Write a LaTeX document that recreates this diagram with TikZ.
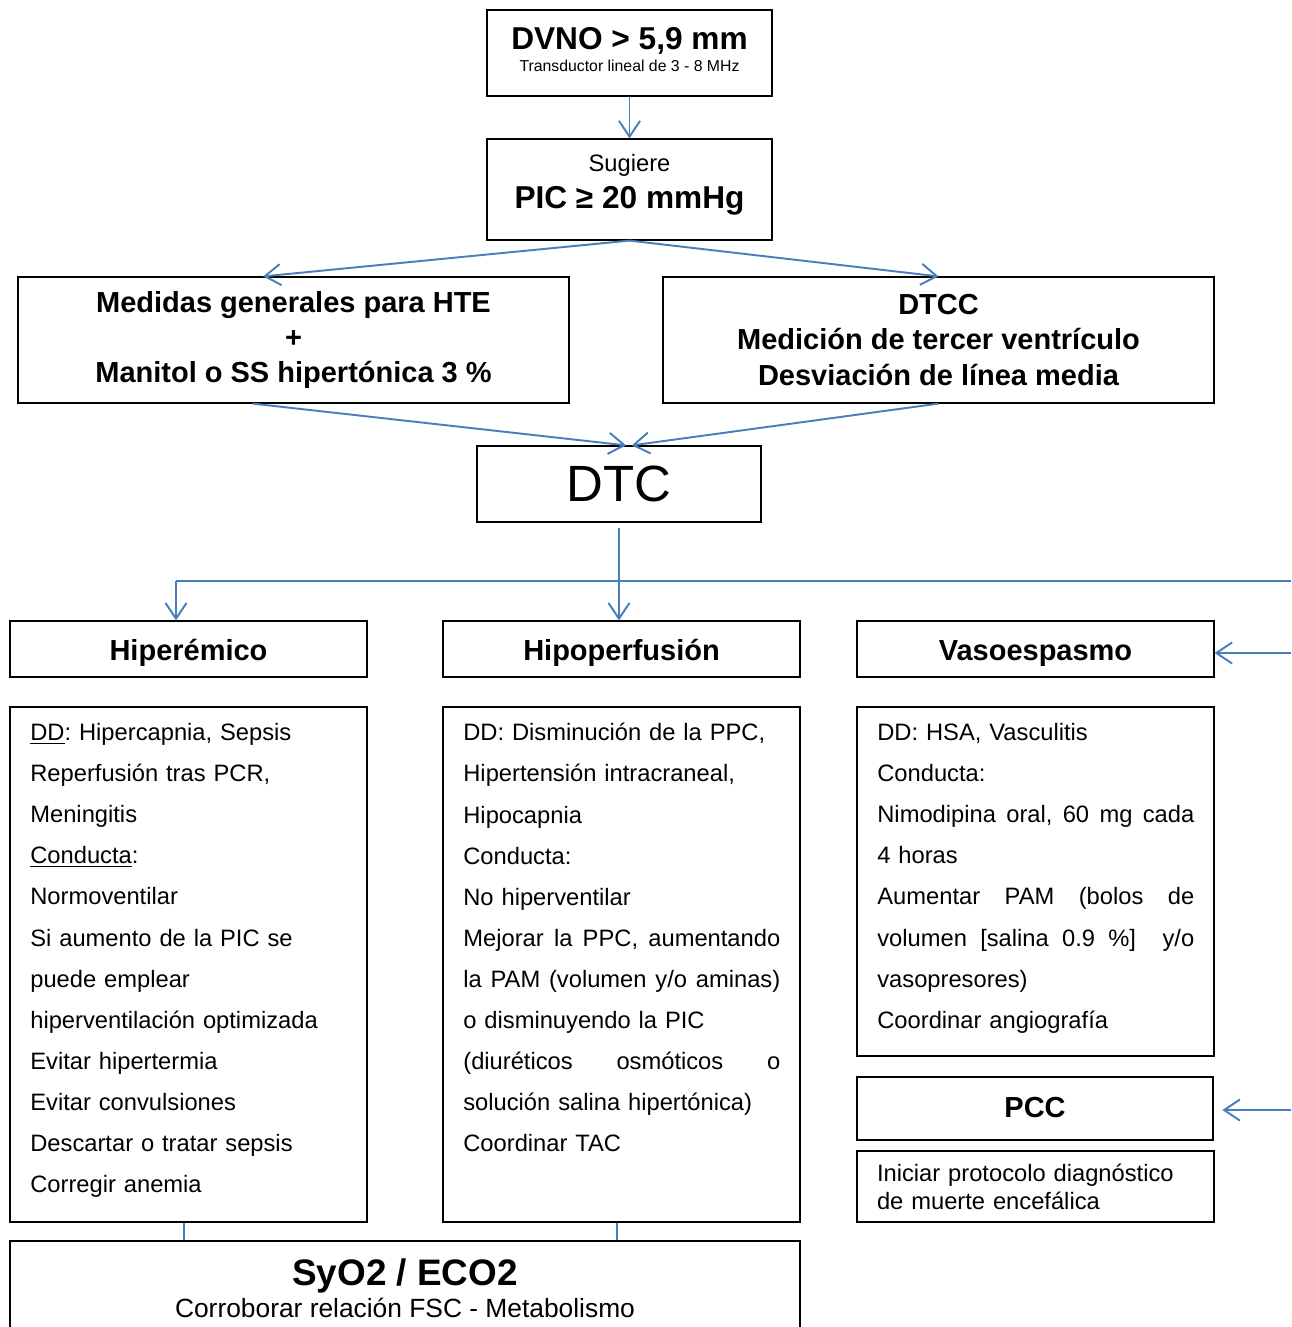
\documentclass[tikz,border=0pt]{standalone}
\usepackage{fontspec}
\setmainfont{Liberation Sans}
\usetikzlibrary{arrows.meta}
\usetikzlibrary{calc}
\usetikzlibrary{positioning}
\definecolor{flowblue}{HTML}{4A7EBB}
\newlength{\bodyw}
\setlength{\bodyw}{6.34cm}
\newcommand{\jline}[1]{\makebox[\bodyw][s]{\spaceskip=0pt\xspaceskip=0pt #1}}
\tikzset{
	box/.style={rectangle, draw=black, line width=0.7pt, inner sep=0pt, text centered},
	topbox/.style={box, minimum width=5.7cm},
	wide/.style={box, minimum width=11.02cm, minimum height=2.52cm, align=center, font=\bfseries\fontsize{16.5}{20}\selectfont},
	head/.style={box, minimum width=7.14cm, minimum height=1.12cm, text height=12.9pt, text depth=0pt, font=\bfseries\fontsize{16.5}{19.8}\selectfont},
	panel/.style={box, minimum width=7.14cm},
	body/.style={anchor=north west, inner sep=0pt, text width=\bodyw, align=left, font=\fontsize{13.5}{23.4}\selectfont\frenchspacing},
	inside/.style={inner sep=0pt, align=center},
	arrow/.style={draw=flowblue, line width=1.1pt, -{Straight Barb[length=9pt,width=12pt]}},
	link/.style={draw=flowblue, line width=0.8pt},
	tie/.style={draw=flowblue, line width=0.6pt},
}

\begin{document}
\begin{tikzpicture}[x=0.02cm, y=-0.02cm]
\clip (0,0) rectangle (1291,1327);

% top of the chart
\node [topbox, minimum height=1.72cm] (dvno) at (629.5,53) {};
\node [inside, font=\fontsize{9}{12.5}\selectfont] (dvnotext) at ([yshift=1.7pt]dvno.center) {{\bfseries\fontsize{18}{20}\selectfont DVNO > 5,9 mm}\\Transductor lineal de 3 - 8 MHz};
\node [topbox, minimum height=2.02cm] (pic) at (629.5,189.5) {};
\node [inside, font=\fontsize{13.5}{21}\selectfont] (pictext) at ([yshift=2.5pt]pic.center) {Sugiere\\{\bfseries\fontsize{18}{21}\selectfont PIC ≥ 20 mmHg}};

\node [wide] (medidas) at (293.5,340) {Medidas generales para HTE\\+\\Manitol o SS hipertónica 3 \%};
\node [wide] (dtcc) at (938.5,340) {DTCC\\Medición de tercer ventrículo\\Desviación de línea media};

\node [box, minimum width=5.68cm, minimum height=1.52cm, font=\fontsize{29}{32}\selectfont] (dtc) at (619,484) {DTC};

% three patterns
\node [head] (hiper) at (188.5,649) {Hiperémico};
\node [head] (hipo) at (621.5,649) {Hipoperfusión};
\node [head] (vaso) at (1035.5,649) {Vasoespasmo};

\node [panel, minimum height=10.3cm] (hiperbox) at (188.5,964.5) {};
\node [panel, minimum height=10.3cm] (hipobox) at (621.5,964.5) {};
\node [panel, minimum height=6.98cm] (vasobox) at (1035.5,881.5) {};

\node [body] (hipertext) at (30,723) {\underline{DD}: Hipercapnia, Sepsis\\Reperfusión tras PCR,\\Meningitis\\\underline{Conducta}:\\Normoventilar\\Si aumento de la PIC se\\puede emplear\\hiperventilación optimizada\\Evitar hipertermia\\Evitar convulsiones\\Descartar o tratar sepsis\\Corregir anemia};

\node [body] (hipotext) at (463,723) {DD: Disminución de la PPC,\\Hipertensión intracraneal,\\Hipocapnia\\Conducta:\\No hiperventilar\\\jline{Mejorar la PPC, aumentando}\\\jline{la PAM (volumen y/o aminas)}\\o disminuyendo la PIC\\\jline{(diuréticos osmóticos o}\\solución salina hipertónica)\\Coordinar TAC};

\node [body] (vasotext) at (877,723) {DD: HSA, Vasculitis\\Conducta:\\\jline{Nimodipina oral, 60 mg cada}\\4 horas\\\jline{Aumentar PAM (bolos de}\\\jline{volumen [salina 0.9 \%]\ \ y/o}\\vasopresores)\\Coordinar angiografía};

\node [head, minimum width=7.12cm, minimum height=1.26cm, text height=10.5pt] (pcc) at (1035,1108.5) {PCC};
\node [panel, minimum height=1.42cm, text width=\bodyw, align=left, font=\fontsize{13.5}{15.9}\selectfont] (muerte) at (1035.5,1186.5) {Iniciar protocolo diagnóstico\\de muerte encefálica};

\node [box, minimum width=15.8cm, minimum height=2cm] (syo2) at (405,1291) {};
\node [inside, font=\fontsize{15}{18}\selectfont] (syo2text) at ([yshift=1.4pt]syo2.center) {{\bfseries\fontsize{21}{24}\selectfont SyO2 / ECO2}\\Corroborar relación FSC - Metabolismo};

% arrows
\draw [arrow] (dvno) -- (pic);
\draw [arrow] (pic.south) -- ($(medidas.north west)!0.445!(medidas.north east)$);
\draw [arrow] (pic.south) -- (dtcc.north);
\draw [arrow] ($(medidas.south west)!0.426!(medidas.south east)$) -- ($(dtc.north west)!0.525!(dtc.north east)$);
\draw [arrow] (dtcc.south) -- ($(dtc.north west)!0.545!(dtc.north east)$);

\coordinate (busL) at (176,581);
\coordinate (busR) at (1291,581);
\draw [link] (busL) -- (busR);
\draw [arrow] (busL) -- (busL |- hiper.north);
\draw [arrow, shorten <=2.8pt] (dtc.south) -- (dtc.south |- hipo.north);

% coming in from the right
\coordinate (vasoin) at (1291,653);
\draw [arrow] (vasoin) -- (vasoin -| vaso.east);
\coordinate (pccin) at (1291,1110);
\draw [arrow, shorten >=5pt] (pccin) -- (pccin -| pcc.east);

% to SyO2
\coordinate (hiperfoot) at ($(hiperbox.south)+(-4.5,0)$);
\coordinate (hipofoot) at ($(hipobox.south)+(-4.5,0)$);
\draw [tie] (hiperfoot) -- (hiperfoot |- syo2.north);
\draw [tie] (hipofoot) -- (hipofoot |- syo2.north);
\end{tikzpicture}
\end{document}
